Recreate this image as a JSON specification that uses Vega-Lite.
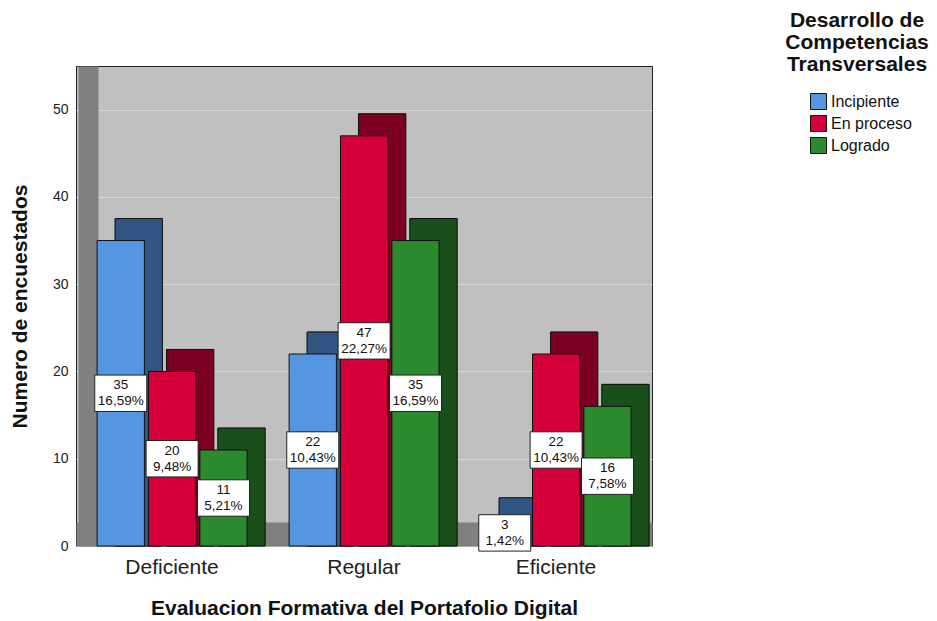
{
  "$schema": "https://vega.github.io/schema/vega-lite/v6.json",
  "autosize": "none",
  "width": 576,
  "height": 480,
  "padding": {"left": 76, "top": 66, "right": 285, "bottom": 75},
  "background": "white",
  "config": {
    "font": "Liberation Sans",
    "view": {"fill": "#c0c0c0", "stroke": "#222222", "strokeWidth": 1}
  },
  "data": {
    "values": [
      {"cat": "Deficiente", "series": "Incipiente", "n": 35, "pct": "16,59%"},
      {"cat": "Deficiente", "series": "En proceso", "n": 20, "pct": "9,48%"},
      {"cat": "Deficiente", "series": "Logrado", "n": 11, "pct": "5,21%"},
      {"cat": "Regular", "series": "Incipiente", "n": 22, "pct": "10,43%"},
      {"cat": "Regular", "series": "En proceso", "n": 47, "pct": "22,27%"},
      {"cat": "Regular", "series": "Logrado", "n": 35, "pct": "16,59%"},
      {"cat": "Eficiente", "series": "Incipiente", "n": 3, "pct": "1,42%"},
      {"cat": "Eficiente", "series": "En proceso", "n": 22, "pct": "10,43%"},
      {"cat": "Eficiente", "series": "Logrado", "n": 16, "pct": "7,58%"}
    ]
  },
  "encoding": {
    "x": {
      "field": "cat",
      "type": "nominal",
      "sort": ["Deficiente", "Regular", "Eficiente"],
      "scale": {"type": "band", "paddingInner": 0.22, "paddingOuter": 0.11},
      "axis": {
        "title": "Evaluacion Formativa del Portafolio Digital",
        "labelAngle": 0,
        "labelFontSize": 21,
        "labelColor": "#222222",
        "titleFontSize": 21,
        "titleFontWeight": "bold",
        "titleColor": "#111111",
        "domainColor": "#808080",
        "domainWidth": 24,
        "offset": -12,
        "ticks": false,
        "tickSize": 0,
        "labelPadding": 22,
        "titlePadding": 20,
        "zindex": 0
      }
    }
  },
  "layer": [
    {
      "mark": {"type": "bar", "stroke": "#111111", "strokeWidth": 1, "yOffset": -22, "y2Offset": -22},
      "encoding": {
        "xOffset": {
          "field": "series",
          "sort": ["Incipiente", "En proceso", "Logrado"],
          "scale": {"type": "band", "range": [18, 168], "paddingInner": 0.08, "paddingOuter": 0}
        },
        "y": {
          "field": "n",
          "type": "quantitative",
          "stack": null,
          "scale": {"domain": [0, 55], "nice": false},
          "axis": null
        },
        "color": {
          "field": "series",
          "type": "nominal",
          "scale": {
            "domain": ["Incipiente", "En proceso", "Logrado"],
            "range": ["#5596e3", "#d5003a", "#2b8a2e"]
          }
        }
      }
    },
    {
      "mark": {"type": "bar", "color": "black", "opacity": 0.42, "stroke": "#111111", "strokeWidth": 1, "yOffset": -22, "y2Offset": -22},
      "encoding": {
        "xOffset": {
          "field": "series",
          "sort": ["Incipiente", "En proceso", "Logrado"],
          "scale": {"type": "band", "range": [18, 168], "paddingInner": 0.08, "paddingOuter": 0}
        },
        "y": {
          "field": "n",
          "type": "quantitative",
          "stack": null,
          "scale": {"domain": [0, 55], "nice": false},
          "axis": null
        }
      }
    },
    {
      "mark": {"type": "bar", "stroke": "#111111", "strokeWidth": 1},
      "encoding": {
        "xOffset": {
          "field": "series",
          "sort": ["Incipiente", "En proceso", "Logrado"],
          "scale": {"type": "band", "range": [0, 150], "paddingInner": 0.08, "paddingOuter": 0}
        },
        "y": {
          "field": "n",
          "type": "quantitative",
          "stack": null,
          "scale": {"domain": [0, 55], "nice": false},
          "axis": {
            "title": "Numero de encuestados",
            "values": [0, 10, 20, 30, 40, 50],
            "labelFontSize": 14,
            "labelColor": "#222222",
            "titleFontSize": 21,
            "titleFontWeight": "bold",
            "titleColor": "#111111",
            "domainColor": "#808080",
            "domainWidth": 20,
            "offset": -12,
            "ticks": false,
            "tickSize": 0,
            "labelPadding": 20,
            "titlePadding": 22,
            "grid": true,
            "gridColor": "#d6d6d6",
            "zindex": 0
          }
        },
        "color": {
          "field": "series",
          "type": "nominal",
          "scale": {
            "domain": ["Incipiente", "En proceso", "Logrado"],
            "range": ["#5596e3", "#d5003a", "#2b8a2e"]
          },
          "legend": {
            "title": ["Desarrollo de", "Competencias", "Transversales"],
            "orient": "none",
            "legendX": 709,
            "legendY": -56,
            "titleFontSize": 21,
            "titleFontWeight": "bold",
            "titleColor": "#111111",
            "titleAlign": "center",
            "titleAnchor": "middle",
            "titleLineHeight": 22,
            "titlePadding": 18,
            "symbolType": "square",
            "symbolSize": 256,
            "symbolStrokeColor": "#111111",
            "symbolStrokeWidth": 1,
            "symbolOffset": 8,
            "labelFontSize": 16,
            "labelColor": "#111111",
            "labelOffset": 4,
            "rowPadding": 1
          }
        }
      }
    },
    {
      "mark": {
        "type": "point",
        "shape": "M-1,-0.7L1,-0.7L1,0.7L-1,0.7Z",
        "size": 2704,
        "filled": true,
        "fill": "white",
        "stroke": "#222222",
        "strokeWidth": 1,
        "opacity": 1
      },
      "encoding": {
        "xOffset": {
          "field": "series",
          "sort": ["Incipiente", "En proceso", "Logrado"],
          "scale": {"type": "band", "range": [0, 150], "paddingInner": 0.08, "paddingOuter": 0}
        },
        "y": {
          "field": "n",
          "type": "quantitative",
          "scale": {"domain": [0, 110], "nice": false},
          "axis": null
        }
      }
    },
    {
      "mark": {"type": "text", "dy": -8, "fontSize": 13.5, "color": "#111111", "baseline": "middle"},
      "encoding": {
        "xOffset": {
          "field": "series",
          "sort": ["Incipiente", "En proceso", "Logrado"],
          "scale": {"type": "band", "range": [0, 150], "paddingInner": 0.08, "paddingOuter": 0}
        },
        "y": {
          "field": "n",
          "type": "quantitative",
          "scale": {"domain": [0, 110], "nice": false},
          "axis": null
        },
        "text": {"field": "n", "type": "quantitative"}
      }
    },
    {
      "mark": {"type": "text", "dy": 8, "fontSize": 13.5, "color": "#111111", "baseline": "middle"},
      "encoding": {
        "xOffset": {
          "field": "series",
          "sort": ["Incipiente", "En proceso", "Logrado"],
          "scale": {"type": "band", "range": [0, 150], "paddingInner": 0.08, "paddingOuter": 0}
        },
        "y": {
          "field": "n",
          "type": "quantitative",
          "scale": {"domain": [0, 110], "nice": false},
          "axis": null
        },
        "text": {"field": "pct", "type": "nominal"}
      }
    }
  ],
  "resolve": {"scale": {"y": "independent", "xOffset": "independent"}}
}
